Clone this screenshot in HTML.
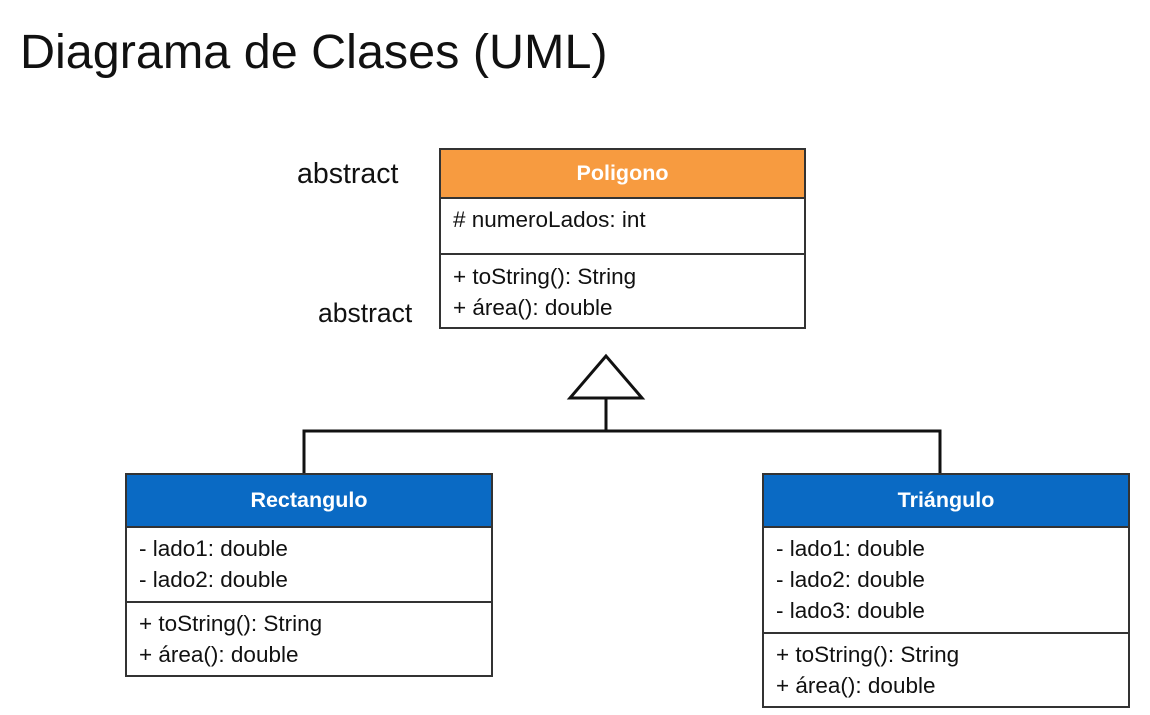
<!DOCTYPE html>
<html><head><meta charset="utf-8"><style>
body{margin:0;width:1150px;height:715px;background:#fff;position:relative;overflow:hidden;font-family:"Liberation Sans",sans-serif;color:#111}
.a{position:absolute;white-space:nowrap}
.box{position:absolute;border:2px solid #333;box-sizing:border-box;background:#fff}
.hd{color:#fff;font-weight:bold;font-size:21.5px;text-align:center;box-sizing:border-box;border-bottom:2px solid #333}
.sec{box-sizing:border-box;font-size:22.5px;line-height:31px;padding:5px 0 0 12px}
.sep{border-bottom:2px solid #333}
</style></head><body>
<div class="a" style="left:20px;top:24px;font-size:48.5px">Diagrama de Clases (UML)</div>
<div class="a" style="left:297px;top:158px;font-size:28.5px">abstract</div>
<div class="a" style="left:318px;top:298px;font-size:26.5px">abstract</div>

<div class="box" style="left:439px;top:148px;width:367px;height:181px">
 <div class="hd" style="height:49px;line-height:47px;background:#F79B40">Poligono</div>
 <div class="sec sep" style="height:56px;padding-top:5px"># numeroLados: int</div>
 <div class="sec" style="padding-top:6px">+ toString(): String<br>+ área(): double</div>
</div>

<svg class="a" style="left:0;top:0" width="1150" height="715">
<polygon points="606,356 570,398 642,398" fill="#fff" stroke="#111" stroke-width="3"/>
<line x1="606" y1="398" x2="606" y2="431" stroke="#111" stroke-width="3"/>
<polyline points="304,474 304,431 940,431 940,474" fill="none" stroke="#111" stroke-width="3"/>
</svg>

<div class="box" style="left:125px;top:473px;width:368px;height:204px">
 <div class="hd" style="height:53px;line-height:50px;background:#0A6AC4">Rectangulo</div>
 <div class="sec sep" style="height:75px">- lado1: double<br>- lado2: double</div>
 <div class="sec">+ toString(): String<br>+ área(): double</div>
</div>

<div class="box" style="left:762px;top:473px;width:368px;height:235px">
 <div class="hd" style="height:53px;line-height:50px;background:#0A6AC4">Triángulo</div>
 <div class="sec sep" style="height:106px">- lado1: double<br>- lado2: double<br>- lado3: double</div>
 <div class="sec">+ toString(): String<br>+ área(): double</div>
</div>
</body></html>
